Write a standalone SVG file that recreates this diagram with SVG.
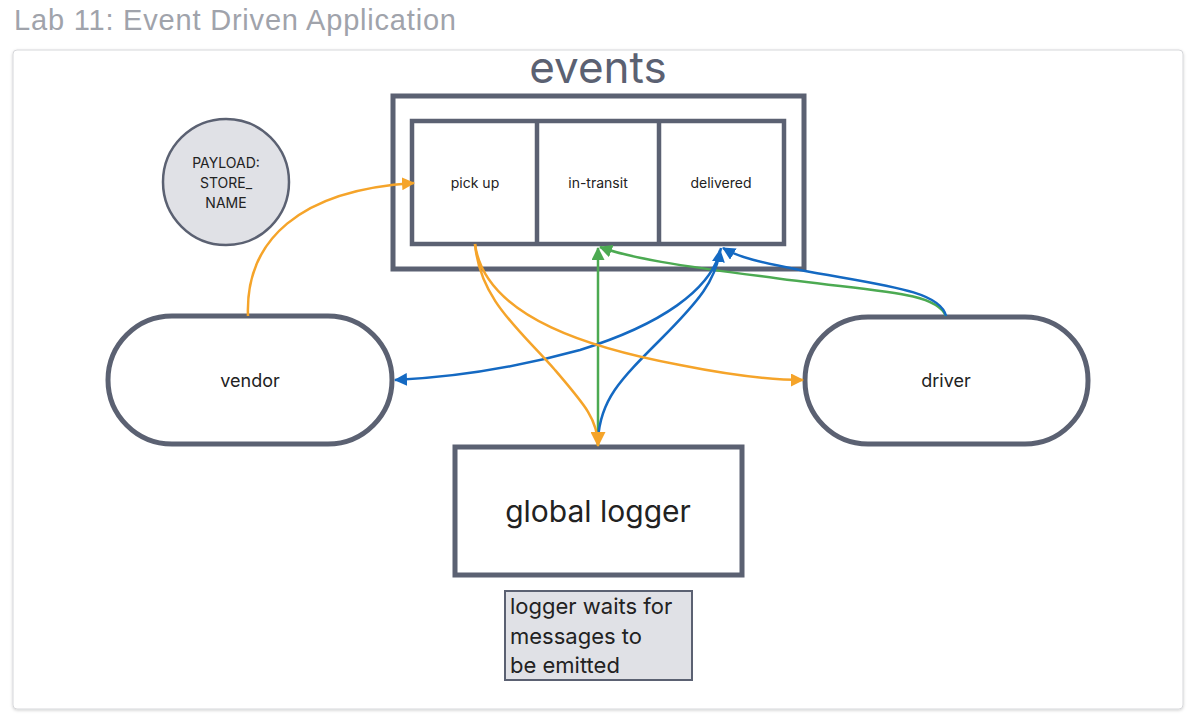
<svg xmlns="http://www.w3.org/2000/svg" width="1197" height="725" viewBox="0 0 1197 725">
<defs>
<style>
.box{fill:#fff;stroke:#5b6172;stroke-width:5}
.inner{fill:#fff;stroke:#5b6172;stroke-width:4.5}
.t{font-family:"Inter","Liberation Sans",sans-serif;fill:#222;text-anchor:middle}
.o{fill:none;stroke:#f5a42a;stroke-width:2.5}
.g{fill:none;stroke:#4caa52;stroke-width:2.5}
.b{fill:none;stroke:#1469c2;stroke-width:2.5}
</style>
<marker id="ao" markerWidth="13" markerHeight="13" refX="12" refY="6.5" orient="auto" markerUnits="userSpaceOnUse" viewBox="0 0 13 13"><path d="M0,0 L13,6.5 L0,13 Z" fill="#f5a42a"/></marker>
<marker id="ag" markerWidth="13" markerHeight="13" refX="12" refY="6.5" orient="auto" markerUnits="userSpaceOnUse" viewBox="0 0 13 13"><path d="M0,0 L13,6.5 L0,13 Z" fill="#4caa52"/></marker>
<marker id="ab" markerWidth="13" markerHeight="13" refX="12" refY="6.5" orient="auto" markerUnits="userSpaceOnUse" viewBox="0 0 13 13"><path d="M0,0 L13,6.5 L0,13 Z" fill="#1469c2"/></marker>
<marker id="aol" markerWidth="15" markerHeight="15" refX="14" refY="7.5" orient="auto" markerUnits="userSpaceOnUse" viewBox="0 0 15 15"><path d="M0,0 L15,7.5 L0,15 Z" fill="#f5a42a"/></marker>
<filter id="sh" x="-5%" y="-5%" width="110%" height="110%"><feDropShadow dx="0" dy="1" stdDeviation="1.5" flood-color="#000" flood-opacity="0.18"/></filter>
</defs>
<rect width="1197" height="725" fill="#fff"/>
<text x="14" y="30" font-family="'Liberation Sans',Arial,sans-serif" font-size="29" fill="#a0a3ab" textLength="442" lengthAdjust="spacing">Lab 11: Event Driven Application</text>
<rect x="13" y="50" width="1170" height="659" rx="4" fill="#fff" stroke="#d6d7da" stroke-width="1" filter="url(#sh)"/>

<g id="events">
<text class="t" x="598" y="83" font-size="44" style="fill:#5b6172">events</text>
<rect class="box" x="393" y="96" width="411" height="173"/>
<rect class="inner" x="412" y="121" width="372" height="123"/>
<line x1="537" y1="121" x2="537" y2="244" stroke="#5b6172" stroke-width="4.5"/>
<line x1="659" y1="121" x2="659" y2="244" stroke="#5b6172" stroke-width="4.5"/>
</g>
<g id="pickup"><text class="t" x="475" y="188" font-size="14">pick up</text></g>
<g id="intransit"><text class="t" x="598" y="188" font-size="14">in-transit</text></g>
<g id="delivered"><text class="t" x="721" y="188" font-size="14">delivered</text></g>

<g id="payload">
<circle cx="226" cy="182" r="63" fill="#e0e1e6" stroke="#5b6172" stroke-width="2.5"/>
<text class="t" x="226" y="168" font-size="14">PAYLOAD:</text>
<text class="t" x="226" y="188" font-size="14">STORE_</text>
<text class="t" x="226" y="208" font-size="14">NAME</text>
</g>

<g id="vendor">
<rect class="box" x="108" y="316" width="284" height="128" rx="64"/>
<text class="t" x="250" y="387" font-size="18">vendor</text>
</g>
<g id="driver">
<rect class="box" x="805" y="317" width="283" height="127" rx="63"/>
<text class="t" x="946" y="387" font-size="18">driver</text>
</g>
<g id="logger">
<rect class="box" x="455" y="447" width="287" height="128"/>
<text class="t" x="598" y="522" font-size="30">global logger</text>
</g>
<g id="note">
<rect x="505" y="591" width="187" height="89" fill="#e0e1e6" stroke="#5b6172" stroke-width="2"/>
<text x="510" y="614" font-family="Inter,'Liberation Sans',sans-serif" font-size="22" fill="#222">logger waits for</text>
<text x="510" y="644" font-family="Inter,'Liberation Sans',sans-serif" font-size="22" fill="#222">messages to</text>
<text x="510" y="673" font-family="Inter,'Liberation Sans',sans-serif" font-size="22" fill="#222">be emitted</text>
</g>

<g id="connectors">
<path class="g" d="M598,446 L598,248" marker-end="url(#ag)"/>
<path class="g" d="M946,316 C935,290 870,292 760,276 C680,266 630,258 600,247" marker-end="url(#ag)"/>
<path class="b" d="M946,316 C940,290 880,285 800,270 C760,262 740,258 723,248" marker-end="url(#ab)"/>
<path class="b" d="M721,248 C712,290 660,325 580,350 C500,372 440,378 395,380" marker-end="url(#ab)"/>
<path class="b" d="M598,440 C600,400 620,380 660,340 C700,300 716,280 720,250" marker-end="url(#ab)"/>
<path class="o" d="M248,316 C245,240 300,190 414,183" marker-end="url(#ao)"/>
<path class="o" d="M475,244 C485,320 600,350 680,365 C730,375 770,380 803,380" marker-end="url(#ao)"/>
<path class="o" d="M475,244 C480,300 520,330 555,370 C585,405 598,420 598,446" marker-end="url(#aol)"/>
</g>
</svg>
